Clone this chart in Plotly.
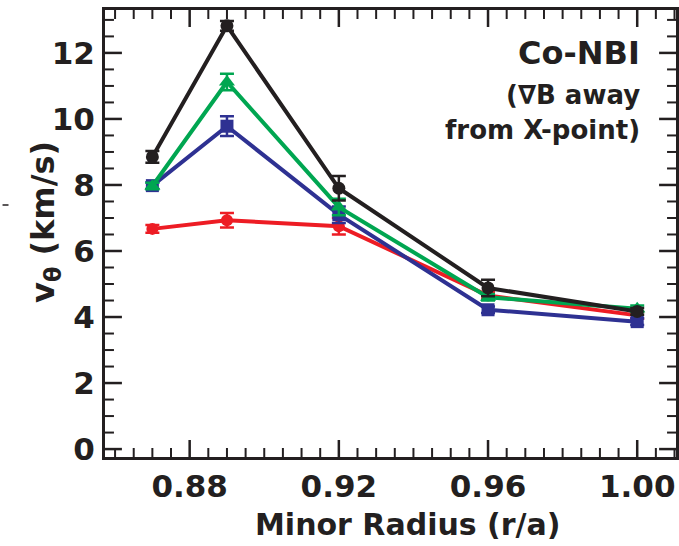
import plotly.graph_objects as go

r_over_a = [0.87, 0.89, 0.92, 0.96, 1.00]

v_black = [8.85, 12.82, 7.90, 4.88, 4.17]
e_black = [0.18, 0.15, 0.37, 0.25, 0.10]
v_green = [7.97, 11.12, 7.33, 4.60, 4.25]
e_green = [0.10, 0.25, 0.25, 0.10, 0.10]
v_blue = [7.98, 9.78, 7.10, 4.22, 3.86]
e_blue = [0.10, 0.30, 0.25, 0.10, 0.10]
v_red = [6.67, 6.93, 6.75, 4.65, 4.05]
e_red = [0.12, 0.22, 0.25, 0.10, 0.10]

x_major = [0.88, 0.92, 0.96, 1.00]
x_minor = [round(0.86 + 0.005 * i, 3) for i in range(31)]
y_major = [0, 2, 4, 6, 8, 10, 12]
y_minor = [0.5 * i for i in range(27)]

FONT = "DejaVu Sans"
INK = "#231f20"
X_RANGE = [0.8573, 1.0104]
Y_RANGE = [-0.24, 13.3]
PLOT_W = 574.0
PLOT_H = 447.0

series = [
    ("red", v_red, e_red, "#ed1c24", "circle", 12),
    ("blue", v_blue, e_blue, "#2e3192", "square", 13),
    ("green", v_green, e_green, "#00a651", "triangle-up", 14),
    ("black", v_black, e_black, INK, "circle", 13),
]

fig = go.Figure()
for name, ys, es, col, sym, ms in series:
    fig.add_trace(go.Scatter(
        x=r_over_a, y=ys, name=name, mode="lines+markers",
        line=dict(color=col, width=4),
        marker=dict(color=col, symbol=sym, size=ms),
        error_y=dict(type="data", array=es, visible=True, color=col,
                     thickness=2.5, width=7),
        showlegend=False,
    ))

axis_common = dict(
    showline=True, linewidth=3, linecolor=INK, mirror=True,
    ticks="", showgrid=False, zeroline=False,
    tickfont=dict(family=FONT, size=31, color=INK, weight="bold"),
)
fig.update_xaxes(range=X_RANGE, tickvals=x_major, tickformat=".2f",
                 **axis_common)
fig.update_yaxes(range=Y_RANGE, tickvals=y_major, ticklabelstandoff=1,
                 **axis_common)

# inside tick marks (bottom/top and left/right), drawn from the tick arrays
def add_xticks(vals, length, width):
    for v in vals:
        if X_RANGE[0] < v < X_RANGE[1]:
            for y0, y1 in ((0, length / PLOT_H), (1, 1 - length / PLOT_H)):
                fig.add_shape(type="line", xref="x", yref="paper",
                              x0=v, x1=v, y0=y0, y1=y1,
                              line=dict(color=INK, width=width))

def add_yticks(vals, length, width):
    for v in vals:
        if Y_RANGE[0] < v < Y_RANGE[1]:
            for x0, x1 in ((0, length / PLOT_W), (1, 1 - length / PLOT_W)):
                fig.add_shape(type="line", xref="paper", yref="y",
                              x0=x0, x1=x1, y0=v, y1=v,
                              line=dict(color=INK, width=width))

add_xticks([v for v in x_minor if v not in x_major], 9, 2)
add_xticks(x_major, 17, 2.5)
add_yticks([v for v in y_minor if v not in y_major], 9, 2)
add_yticks(y_major, 17, 2.5)

ann_font = dict(family=FONT, color=INK, weight="bold")
fig.add_annotation(text="Minor Radius (r/a)", xref="paper", yref="paper",
                   x=0.53, y=-0.15, xanchor="center", yanchor="middle",
                   showarrow=False, font=dict(size=30, **ann_font))
fig.add_annotation(text="v<sub>θ</sub> (km/s)", xref="paper", yref="paper",
                   x=-0.105, y=0.526, xanchor="center", yanchor="middle",
                   textangle=-90, showarrow=False,
                   font=dict(size=32, **ann_font))
fig.add_annotation(text="Co-NBI", xref="paper", yref="paper",
                   x=0.9408, y=0.904, xanchor="right", yanchor="middle",
                   showarrow=False, font=dict(size=32, **ann_font))
fig.add_annotation(text="(∇B away", xref="paper", yref="paper",
                   x=0.9408, y=0.81, xanchor="right", yanchor="middle",
                   showarrow=False, font=dict(size=26, **ann_font))
fig.add_annotation(text="from X-point)", xref="paper", yref="paper",
                   x=0.9408, y=0.7315, xanchor="right", yanchor="middle",
                   showarrow=False, font=dict(size=26, **ann_font))

# small stray mark at the far left edge of the original figure
fig.add_shape(type="line", xref="paper", yref="paper",
              x0=(2 - 105) / PLOT_W, x1=(8 - 105) / PLOT_W,
              y0=(457 - 205) / PLOT_H, y1=(457 - 205) / PLOT_H,
              line=dict(color=INK, width=1.5))

fig.update_layout(
    width=679, height=546,
    margin=dict(l=105, r=0, t=10, b=89),
    paper_bgcolor="white", plot_bgcolor="white",
)

fig.write_html("out.html")
